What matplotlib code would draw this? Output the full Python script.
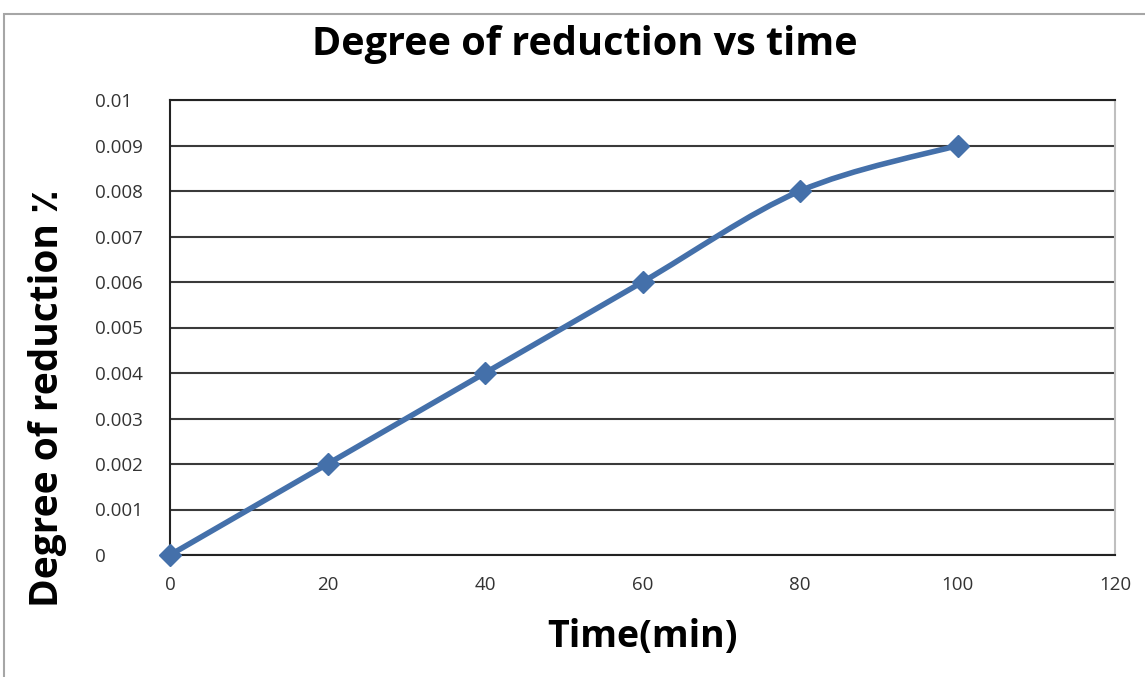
import numpy as np
import matplotlib
matplotlib.use("Agg")
import matplotlib.pyplot as plt
from matplotlib.patches import Rectangle
from matplotlib.path import Path
from matplotlib.patches import PathPatch

time_min = [0, 20, 40, 60, 80, 100]
reduction = [0, 0.002, 0.004, 0.006, 0.008, 0.009]
x_ticks = [0, 20, 40, 60, 80, 100, 120]
y_ticks = [0, 0.001, 0.002, 0.003, 0.004, 0.005, 0.006, 0.007, 0.008, 0.009, 0.01]
y_tick_labels = ["0", "0.001", "0.002", "0.003", "0.004", "0.005", "0.006",
                 "0.007", "0.008", "0.009", "0.01"]

W, H = 1145, 677
fig = plt.figure(figsize=(W / 100, H / 100), dpi=100)
ax = fig.add_axes([170 / W, 1 - 555 / H, (1115 - 170) / W, (555 - 100) / H])

# outer chart border
fig.patches.append(Rectangle((4 / W, -0.1), 1.2, 1 - 14 / H + 0.1,
                             transform=fig.transFigure, fill=False,
                             edgecolor="#a6a6a6", linewidth=1.5))

color = "#4470aa"

# smoothed line (Bezier through points, Excel-like)
xs = np.array(time_min, float)
ys = np.array(reduction, float)
verts = [(xs[0], ys[0])]
codes = [Path.MOVETO]
n = len(xs)
for i in range(n - 1):
    p0 = np.array([xs[max(i - 1, 0)], ys[max(i - 1, 0)]])
    p1 = np.array([xs[i], ys[i]])
    p2 = np.array([xs[i + 1], ys[i + 1]])
    p3 = np.array([xs[min(i + 2, n - 1)], ys[min(i + 2, n - 1)]])
    c1 = p1 + (p2 - p0) / 6
    c2 = p2 - (p3 - p1) / 6
    verts += [tuple(c1), tuple(c2), tuple(p2)]
    codes += [Path.CURVE4] * 3
ax.add_patch(PathPatch(Path(verts, codes), facecolor="none", edgecolor=color,
                       linewidth=4, capstyle="round", joinstyle="round",
                       zorder=3, clip_on=False))
ax.plot(time_min, reduction, linestyle="none", marker="D", markersize=11,
        color=color, zorder=4, clip_on=False)

ax.set_xlim(0, 120)
ax.set_ylim(0, 0.01)
ax.set_xticks(x_ticks)
ax.set_xticklabels([str(t) for t in x_ticks])
ax.set_yticks(y_ticks)
ax.set_yticklabels(y_tick_labels)
ax.yaxis.grid(True, color="#3a3a3a", linewidth=1.5)
ax.set_axisbelow(True)
ax.tick_params(axis="both", length=0, labelsize=13.5, colors="#333333",
               labelfontfamily="Open Sans")
ax.tick_params(axis="x", pad=15)
ax.tick_params(axis="y", pad=54)
for lab in ax.get_yticklabels():
    lab.set_horizontalalignment("left")
for s in ["left", "top", "bottom"]:
    ax.spines[s].set_color("#222222")
    ax.spines[s].set_linewidth(1.5)
ax.spines["right"].set_color("#bfbfbf")
ax.spines["right"].set_linewidth(1.5)

fig.text(585 / W, 1 - 45 / H, "Degree of reduction vs time", ha="center",
         va="center", fontsize=28.5, fontweight="bold", family="Open Sans")
fig.text(643 / W, 1 - 637 / H, "Time(min)", ha="center", va="center",
         fontsize=27, fontweight="bold", family="Open Sans")
fig.text(48 / W, 1 - 398 / H, "Degree of reduction ٪", ha="center",
         va="center", rotation=90, fontsize=28, fontweight="bold",
         family=["Open Sans", "DejaVu Sans"])

fig.savefig("out.png", dpi=100)
